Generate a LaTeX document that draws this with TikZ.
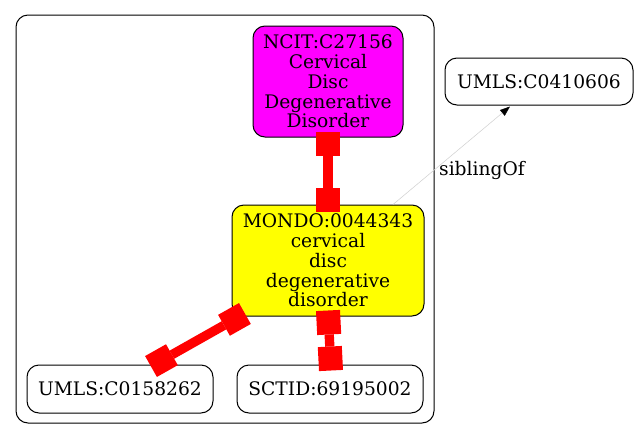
\documentclass[tikz,border=0pt]{standalone}
\usepackage{fontspec}
\setmainfont{DejaVu Serif}
\usetikzlibrary{arrows.meta}
\definecolor{gvmagenta}{RGB}{255,0,255}
\definecolor{gvyellow}{RGB}{255,255,0}
\definecolor{gvred}{RGB}{255,0,0}
\tikzset{
  gnode/.style={draw=black, line width=0.75pt, rounded corners=9pt, align=center,
    inner sep=0pt, font=\fontsize{14}{14.8}\selectfont},
  redge/.style={draw=gvred, line width=7pt,
    {Square[length=18pt,width=18pt,line width=0pt]}-{Square[length=18pt,width=18pt,line width=0pt]}},
  sedge/.style={draw=black!18, line width=0.4pt,
    -{Triangle[length=7.5pt,width=5.5pt,color=black]}},
  lbl/.style={font=\fontsize{14}{14.8}\selectfont, inner sep=0pt}
}
\begin{document}
\begin{tikzpicture}[x=0.75pt,y=-0.75pt]
\useasboundingbox (0,0) rectangle (637,440);
\draw[line width=0.75pt, rounded corners=9pt] (16,15) rectangle (434,423);
\node[gnode, fill=gvmagenta, minimum width=112.5pt, minimum height=83.25pt] (ncit) at (328,81.5)
  {NCIT:C27156\\Cervical\\Disc\\Degenerative\\Disorder};
\node[gnode, fill=gvyellow, minimum width=144pt, minimum height=83.25pt] (mondo) at (328,260.5)
  {MONDO:0044343\\cervical\\disc\\degenerative\\disorder};
\node[gnode, fill=white, minimum width=139.5pt, minimum height=36pt] (umlsa) at (120,389)
  {UMLS:C0158262};
\node[gnode, fill=white, minimum width=139.5pt, minimum height=36pt] (sctid) at (330,389)
  {SCTID:69195002};
\node[gnode, fill=white, minimum width=141pt, minimum height=35.25pt] (umlsb) at (539,81.5)
  {UMLS:C0410606};
\draw[redge] ([shift={(0,-6)}]ncit.south) -- ([shift={(0,7)}]mondo.north);
\draw[redge] ([shift={(13.4,-3)}]mondo.south west) -- ([shift={(31,2)}]umlsa.north);
\draw[redge] ([shift={(0,-6)}]mondo.south) -- ([shift={(1,6)}]sctid.north);
\draw[sedge] ([shift={(65,0)}]mondo.north) -- ([shift={(-29,1)}]umlsb.south);
\node[lbl] (siblab) at (482,170) {siblingOf};
\end{tikzpicture}
\end{document}
